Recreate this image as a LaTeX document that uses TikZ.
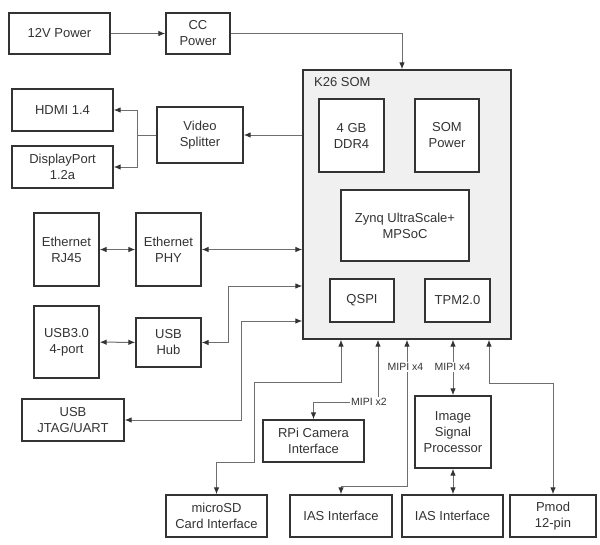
\documentclass[tikz,border=0pt]{standalone}
\usepackage{fontspec}
\setmainfont{Liberation Sans}
\usetikzlibrary{arrows.meta}
\definecolor{boxline}{HTML}{333333}
\definecolor{wirecol}{HTML}{6E6E6E}
\definecolor{somfill}{HTML}{F0F0F0}
\tikzset{blk/.style={draw=boxline,line width=1.4pt,fill=white,align=center,
   text=boxline,inner sep=1pt,font=\fontsize{13}{16}\selectfont},
 sombox/.style={draw=boxline,line width=1.4pt,fill=somfill},
 wire/.style={draw=wirecol,line width=1pt},
 mipi/.style={text=boxline,inner sep=1.5pt,font=\fontsize{10.5}{12}\selectfont},
 >={Latex[length=7pt,width=5.6pt,color=boxline]},
 }

\begin{document}
\begin{tikzpicture}[x=1pt,y=-1pt]
        \useasboundingbox (0,0) rectangle (600,544);
        % power
        \node[blk,minimum width=101,minimum height=41] (pwr) at (59.5,33.5) {12V Power};
        \node[blk,minimum width=64,minimum height=41] (cc) at (198,33.5) {CC\\Power};

        % SOM
        \node[sombox,minimum width=208,minimum height=269] (som) at (407,204.5) {};
        \node[anchor=west,inner sep=0pt,text=boxline,font=\fontsize{13}{16}\selectfont] (somlbl) at (314,82) {K26 SOM};
        \node[blk,minimum width=65,minimum height=73] (ddr) at (351.5,135.5) {4 GB\\DDR4};
        \node[blk,minimum width=64,minimum height=73] (sompwr) at (447,135.5) {SOM\\Power};
        \node[blk,minimum width=128,minimum height=71] (zynq) at (405,225.5) {Zynq UltraScale+\\MPSoC};
        \node[blk,minimum width=64,minimum height=43] (qspi) at (362,300.5) {QSPI};
        \node[blk,minimum width=65,minimum height=43] (tpm) at (457.5,300.5) {TPM2.0};

        % left side
        \node[blk,minimum width=101,minimum height=42] (hdmi) at (62.5,110) {HDMI 1.4};
        \node[blk,minimum width=101,minimum height=42] (dp) at (62.5,167) {DisplayPort\\1.2a};
        \node[blk,minimum width=86,minimum height=56] (split) at (200,135) {Video\\Splitter};
        \node[blk,minimum width=65,minimum height=73] (rj45) at (66.5,249.5) {Ethernet\\RJ45};
        \node[blk,minimum width=65,minimum height=73] (phy) at (168.5,249.5) {Ethernet\\PHY};
        \node[blk,minimum width=65,minimum height=72] (usb3) at (66.5,342) {USB3.0\\4-port};
        \node[blk,minimum width=65,minimum height=49] (hub) at (168.5,342.5) {USB\\Hub};
        \node[blk,minimum width=102,minimum height=42] (jtag) at (73,420) {USB\\JTAG/UART};

        % bottom
        \node[blk,minimum width=101,minimum height=42] (rpi) at (313.5,441) {RPi Camera\\Interface};
        \node[blk,minimum width=76,minimum height=72] (isp) at (453,432) {Image\\Signal\\Processor};
        \node[blk,minimum width=101,minimum height=42] (sd) at (216.5,516) {microSD\\Card Interface};
        \node[blk,minimum width=102,minimum height=42] (ias1) at (341,516) {IAS Interface};
        \node[blk,minimum width=101,minimum height=42] (ias2) at (452.5,516) {IAS Interface};
        \node[blk,minimum width=86,minimum height=42] (pmod) at (553,516) {Pmod\\12-pin};

        \node[mipi] (mx2) at (369,402) {MIPI x2};
        \node[mipi] (mx4a) at (405.5,367) {MIPI x4};
        \node[mipi] (mx4b) at (452.5,367) {MIPI x4};

        \coordinate (ccin) at (402,33.5);
        \coordinate (vsp) at (137,135);
        \coordinate (hubk) at (228,286);
        \coordinate (jtk) at (241,321);
        \coordinate (b1) at (341,382);
        \coordinate (b1k) at (254,462);
        \coordinate (b2) at (378,402);
        \coordinate (b3) at (407,486);
        \coordinate (b5) at (489,383);

        % connectors
        \draw[wire,->] (pwr) -- (cc);
        \draw[wire,->] (cc.east) -- (ccin) -- (ccin |- som.north);
        \draw[wire,->] (som.west |- split.east) -- (split.east);
        \draw[wire,->] (split.west) -- (vsp) |- (hdmi.east);
        \draw[wire,->] (vsp) |- (dp.east);
        \draw[wire,<->] (rj45) -- (phy);
        \draw[wire,<->] (phy.east) -- (som.west |- phy.east);
        \draw[wire,<->] (usb3) -- (hub);
        \draw[wire,<->] (hub.east) -| (hubk) -- (som.west |- hubk);
        \draw[wire,<->] (som.west |- jtk) -- (jtk) |- (jtag.east);

        \draw[wire,<->] (b1 |- som.south) -- (b1) -| (b1k) -| (sd.north);
        \draw[wire,<-] (b2 |- som.south) -- (b2 |- mx2.north);
        \draw[wire,->] (mx2.west) -| (rpi.north);
        \draw[wire,<-] (b3 |- som.south) -- (b3 |- mx4a.north);
        \draw[wire,->] (b3 |- mx4a.south) -- (b3) -| (ias1.north);
        \draw[wire,<-] (isp.north |- som.south) -- (isp.north |- mx4b.north);
        \draw[wire,->] (isp.north |- mx4b.south) -- (isp.north);
        \draw[wire,<->] (isp.south) -- (isp.south |- ias2.north);
        \draw[wire,<->] (b5 |- som.south) -- (b5) -| (pmod.north);
    \end{tikzpicture}
\end{document}
